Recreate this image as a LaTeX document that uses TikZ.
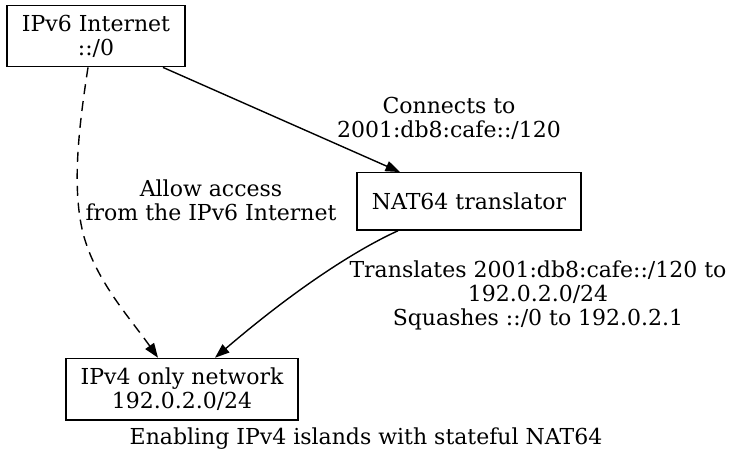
\documentclass[tikz,border=0pt]{standalone}
\usepackage{fontspec}
\setmainfont{DejaVu Serif}
\usetikzlibrary{arrows.meta}
\begin{document}
\begin{tikzpicture}[x=1pt,y=-1pt,
  every node/.style={font=\fontsize{22}{24}\selectfont, align=center, inner sep=0pt},
  box/.style={draw, line width=1.4pt, rectangle},
  lbl/.style={},
  conn/.style={line width=1.4pt, -{Triangle[length=14.5pt,width=10.5pt]}},
  dashconn/.style={conn, dash pattern=on 10pt off 7pt}
]
\useasboundingbox (0,0) rectangle (732,448);
\node[box, minimum width=178pt, minimum height=61pt] (A) at (96,36.2) {IPv6 Internet\\::/0};
\node[box, minimum width=224pt, minimum height=57.3pt] (B) at (469,201.4) {NAT64 translator};
\node[box, minimum width=232pt, minimum height=61.5pt] (C) at (182,389.2) {IPv4 only network\\192.0.2.0/24};

\node[lbl] (L1) at (449,118) {Connects to\\2001:db8:cafe::/120};
\node[lbl] (L2) at (211,200) {Allow access\\from the IPv6 Internet};
\node[lbl] (L3) at (538,295) {Translates 2001:db8:cafe::/120 to\\192.0.2.0/24\\Squashes ::/0 to 192.0.2.1};
\node[anchor=base] (cap) at (366,444) {Enabling IPv4 islands with stateful NAT64};

\draw[conn] ([xshift=67pt]A.south) -- ([xshift=-69pt]B.north);
\draw[dashconn] ([xshift=-8pt]A.south) .. controls (80,120) and (71,185) .. (83,233)
  .. controls (95,280) and (130,318) .. ([xshift=-24pt]C.north);
\draw[conn] ([xshift=-71pt]B.south) .. controls (360,248) and (300,285) .. ([xshift=33pt]C.north);
\end{tikzpicture}
\end{document}
